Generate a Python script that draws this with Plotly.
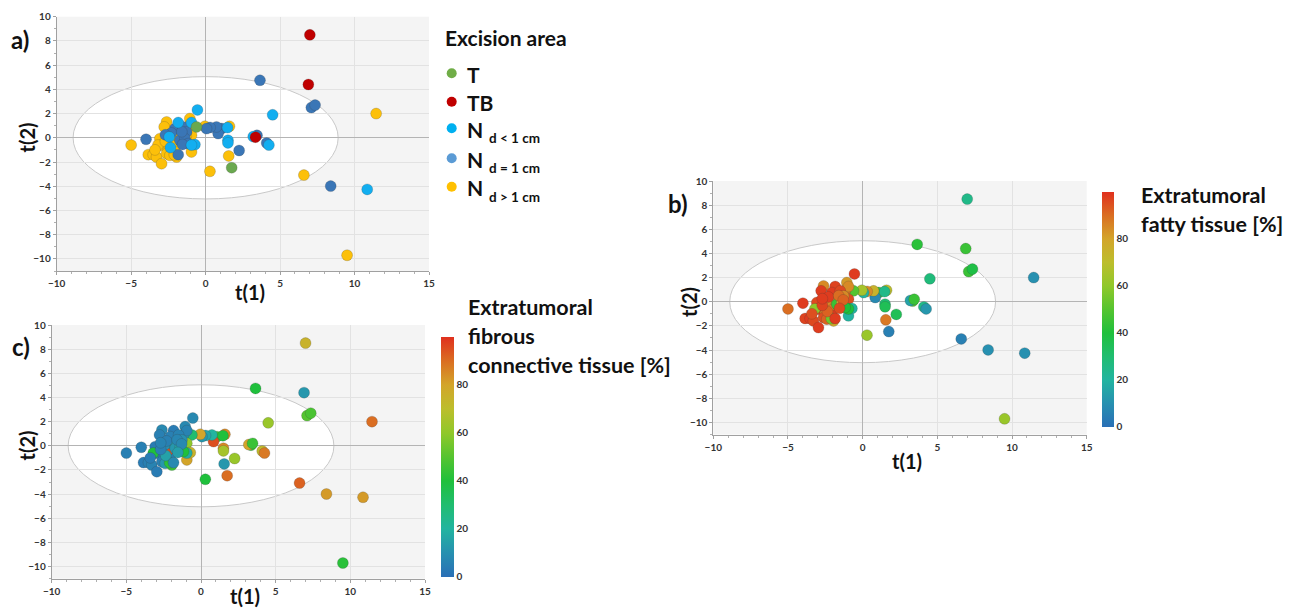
import plotly.graph_objects as go

# Score coordinates of each sample on the first two components
t1 = [7.0, 6.9, 3.65, 7.1, 7.35, 11.45, 4.5, -0.55, 3.35, 3.2, 3.45, 4.1, 4.25, 2.25, 1.55,
      1.75, 0.29, 6.6, 8.4, 10.85, 9.5, -4.0, -5.0, 1.5, 1.5, 1.07, 0.84, 1.6, 1.47, 0.73,
      0.3, 0.06, -0.05, -0.61,
      -2.62, -2.78, -3.07, -2.96, -3.2, -3.85, -3.52, -3.3, -2.96, -2.51, -2.62, -2.40, -1.95,
      -2.06, -2.18, -1.84, -1.06, -1.17, -0.95, -0.95, -2.1,
      -1.84, -0.95, -2.44, -2.36, -0.72, -0.95,
      -2.06, -1.5, -1.28, -1.73, -1.39, -1.84, -1.17, -2.3, -1.6,
      -2.7, -3.4, -1.3, -1.55, -2.7]
t2 = [8.5, 4.4, 4.75, 2.5, 2.7, 2.0, 1.9, 2.3, 0.05, 0.1, 0.2, -0.43, -0.6, -1.05, -1.5,
      -2.47, -2.77, -3.08, -3.99, -4.26, -9.7, -0.12, -0.6, -0.2, -0.42, 0.76, 0.35, 0.95, 0.84, 0.9,
      0.85, 0.76, 0.95, 0.9,
      1.31, 0.90, -0.07, -0.62, -0.6, -1.39, -1.39, -1.59, -2.14, -1.03, -1.31, -1.45, -1.59,
      -0.89, -0.34, 0.07, 1.59, 0.90, 0.21, -1.17, -1.4,
      1.26, 1.26, 0.07, -0.81, -0.56, -0.6,
      0.76, 0.9, 0.48, -0.21, -0.07, -1.39, -0.48, 0.4, 0.5,
      -0.3, -1.0, 0.15, -0.55, 0.25]
area = ["TB", "TB", "N=1", "N=1", "N=1", "N>1", "N<1", "N<1", "TB", "N<1", "N=1", "N=1", "N<1", "N=1", "N>1",
        "T", "N>1", "N>1", "N=1", "N<1", "N>1", "N=1", "N>1", "N<1", "N<1", "N=1", "N=1", "N>1", "N<1", "N=1",
        "N=1", "N=1", "N>1", "T",
        "N>1", "N>1", "N>1", "N>1", "N>1", "N>1", "N>1", "N>1", "N>1", "N>1", "N>1", "N>1", "N>1",
        "N>1", "N>1", "N>1", "N>1", "N>1", "N>1", "N>1", "N>1",
        "N<1", "N<1", "N<1", "N<1", "N<1", "N<1",
        "N=1", "N=1", "N=1", "N=1", "N=1", "N=1", "N=1", "N=1", "N=1",
        "N>1", "N>1", "N>1", "N=1", "N=1"]
fat_pct = [25, 45, 42, 45, 38, 10, 28, 98, 50, 15, 45, 25, 12, 35, 88,
           5, 62, 5, 10, 10, 62, 98, 90, 30, 35, 45, 8, 70, 25, 75,
           85, 20, 65, 50,
           85, 98, 96, 98, 60, 97, 98, 96, 98, 85, 95, 92, 78,
           98, 88, 88, 82, 90, 95, 20, 55,
           97, 85, 85, 92, 20, 40,
           98, 96, 85, 45, 80, 98, 40, 98, 90,
           97, 95, 92, 96, 98]
fibrous_pct = [75, 12, 40, 50, 48, 90, 62, 8, 45, 80, 45, 72, 88, 62, 12,
               90, 40, 92, 82, 82, 42, 5, 5, 85, 65, 45, 95, 85, 40, 20,
               15, 12, 80, 30,
               8, 5, 4, 5, 40, 4, 5, 6, 4, 6, 5, 12, 45,
               5, 95, 14, 8, 10, 60, 80, 42,
               4, 6, 10, 15, 75, 18,
               5, 6, 10, 12, 16, 8, 40, 5, 7,
               5, 4, 8, 14, 6]

# Excision-area groups, drawing order and colours
area_codes = ["N>1", "N=1", "N<1", "T", "TB"]
area_colors = {"T": "#6aa84f", "TB": "#c00000", "N<1": "#12aef0",
               "N=1": "#3a76b6", "N>1": "#fcc00a"}
legend_codes = ["T", "TB", "N<1", "N=1", "N>1"]
legend_main = ["T", "TB", "N", "N", "N"]
legend_sub = ["", "", "d < 1 cm", "d = 1 cm", "d > 1 cm"]
legend_swatch = {"T": "#70ad47", "TB": "#c00000", "N<1": "#00b0f0",
                 "N=1": "#5b9bd5", "N>1": "#ffc000"}

# Hotelling T2 ellipse semi-axes
T2_A, T2_B = 8.9, 5.05

colorbar_ticks = [0, 20, 40, 60, 80]
scale = [[0.0, "#2a6fb6"], [0.1, "#2790b0"], [0.2, "#22b4a0"], [0.3, "#20bd70"],
         [0.4, "#1fc03c"], [0.5, "#55c430"], [0.6, "#90c82a"], [0.7, "#bcbe2c"],
         [0.8, "#d3a52a"], [0.9, "#da6e22"], [1.0, "#e0301e"]]

W, H = 1295, 610
FONT = "Lato"


def px(x):
    return x / W


def py(y):
    return 1 - y / H


# Plot areas in pixel coordinates (left, right, top, bottom)
panels = {
    "a": (56.7, 429.0, 16.7, 271.0),
    "b": (713.3, 1086.7, 181.0, 434.5),
    "c": (51.7, 425.0, 325.0, 578.7),
}
# Placement of the axis titles: "t(1)" vertical centre, "t(2)" offset left of the plot
t1_title_y = {"a": 292, "b": 461, "c": 596}
t2_title_dx = {"a": 30, "b": 25, "c": 25}

fig = go.Figure()

marker_line = dict(width=0.6, color="rgba(60,60,60,0.35)")
tick_font = dict(family=FONT, size=10, color="#333", weight="bold")

# Panel a: coloured by excision area
for code in area_codes:
    xs = [x for x, a in zip(t1, area) if a == code]
    ys = [y for y, a in zip(t2, area) if a == code]
    fig.add_trace(go.Scatter(x=xs, y=ys, mode="markers", xaxis="x", yaxis="y",
                             marker=dict(size=11, color=area_colors[code], line=marker_line),
                             showlegend=False, name=code))

# Panel b: coloured by extratumoral fatty tissue
fig.add_trace(go.Scatter(
    x=t1, y=t2, mode="markers", xaxis="x2", yaxis="y2", showlegend=False,
    marker=dict(size=11, color=fat_pct, colorscale=scale, cmin=0, cmax=100, line=marker_line,
                colorbar=dict(x=px(1102), xanchor="left", thickness=12, xpad=0, ypad=0,
                              y=py((192 + 426.7) / 2), yanchor="middle", len=(426.7 - 192) / H,
                              tickvals=colorbar_ticks, outlinewidth=0, ticks="",
                              tickfont=tick_font))))

# Panel c: coloured by extratumoral fibrous connective tissue
fig.add_trace(go.Scatter(
    x=t1, y=t2, mode="markers", xaxis="x3", yaxis="y3", showlegend=False,
    marker=dict(size=11, color=fibrous_pct, colorscale=scale, cmin=0, cmax=100, line=marker_line,
                colorbar=dict(x=px(441), xanchor="left", thickness=13, xpad=0, ypad=0,
                              y=py((337 + 576.7) / 2), yanchor="middle", len=(576.7 - 337) / H,
                              tickvals=colorbar_ticks, outlinewidth=0, ticks="",
                              tickfont=tick_font))))

axis_common = dict(showgrid=True, gridcolor="#e2e2e2", gridwidth=1, automargin=False,
                   zeroline=True, zerolinecolor="#b4b4b4", zerolinewidth=1,
                   showline=True, linecolor="#a0a0a0", linewidth=1,
                   ticks="outside", ticklen=3, tickcolor="#a0a0a0",
                   tickfont=tick_font,
                   minor=dict(ticks="outside", ticklen=2, tickcolor="#b0b0b0", showgrid=False))

Y_MIN, Y_MAX = -11, 10

shapes = []
annotations = []
for key, suffix in zip(["a", "b", "c"], ["", "2", "3"]):
    l, r, t, b = panels[key]
    fig.update_layout(**{
        "xaxis" + suffix: dict(domain=[px(l), px(r)], range=[-10, 15], dtick=5, tick0=0,
                               anchor="y" + suffix, **axis_common),
        "yaxis" + suffix: dict(domain=[py(b), py(t)], range=[Y_MIN, Y_MAX], dtick=2, tick0=0,
                               anchor="x" + suffix, **axis_common),
    })
    fig.layout["xaxis" + suffix].minor.dtick = 1
    fig.layout["yaxis" + suffix].minor.dtick = 1
    # Confidence ellipse
    shapes.append(dict(type="circle", xref="x" + suffix, yref="y" + suffix,
                       x0=-T2_A, x1=T2_A, y0=-T2_B, y1=T2_B, layer="below",
                       fillcolor="white", line=dict(color="#c8c8c8", width=1)))
    # Axis titles
    cx = (l + r) / 2 + 7
    zero_y = t + Y_MAX * (b - t) / (Y_MAX - Y_MIN)
    annotations.append(dict(text="t(1)", x=px(cx), y=py(t1_title_y[key]), xref="paper", yref="paper",
                            showarrow=False, font=dict(family=FONT, size=20, color="#111", weight="bold"),
                            xanchor="center", yanchor="middle"))
    annotations.append(dict(text="t(2)", x=px(l - t2_title_dx[key]), y=py(zero_y), xref="paper",
                            yref="paper", showarrow=False, textangle=-90,
                            font=dict(family=FONT, size=20, color="#111", weight="bold"),
                            xanchor="center", yanchor="middle"))

# Panel letters
for text, (x, y) in zip(["a)", "b)", "c)"], [(20, 40), (678, 203), (21, 346)]):
    annotations.append(dict(text=text, x=px(x), y=py(y), xref="paper", yref="paper", showarrow=False,
                            font=dict(family=FONT, size=24, color="#111", weight="bold"),
                            xanchor="center", yanchor="middle"))

# Excision-area legend
annotations.append(dict(text="Excision area", x=px(443), y=py(37), xref="paper", yref="paper",
                        showarrow=False, xanchor="left", yanchor="middle",
                        font=dict(family=FONT, size=21, color="#111", weight="bold")))
rows_y = [73.3, 101.7, 128.3, 158.3, 186.7]
for code, main, sub, yy in zip(legend_codes, legend_main, legend_sub, rows_y):
    shapes.append(dict(type="circle", xref="paper", yref="paper",
                       x0=px(446.7), x1=px(456.7), y0=py(yy + 5), y1=py(yy - 5),
                       fillcolor=legend_swatch[code], line=dict(width=0)))
    annotations.append(dict(text=main, x=px(465), y=py(yy + 1), xref="paper", yref="paper",
                            showarrow=False, xanchor="left", yanchor="middle",
                            font=dict(family=FONT, size=21, color="#111", weight="bold")))
    if sub:
        annotations.append(dict(text=sub, x=px(487), y=py(yy + 10), xref="paper", yref="paper",
                                showarrow=False, xanchor="left", yanchor="middle",
                                font=dict(family=FONT, size=13.5, color="#111", weight="bold")))

# Colour-bar titles
title_font = dict(family=FONT, size=21.5, color="#111", weight="bold")
for text, x, y in [("Extratumoral", 1139, 195), ("fatty tissue [%]", 1139, 224),
                   ("Extratumoral", 466, 307), ("fibrous", 466, 336),
                   ("connective tissue [%]", 466, 365)]:
    annotations.append(dict(text=text, x=px(x), y=py(y), xref="paper", yref="paper",
                            showarrow=False, xanchor="left", yanchor="middle", font=title_font))

fig.update_layout(
    width=W, height=H, margin=dict(l=0, r=0, t=0, b=0, autoexpand=False),
    paper_bgcolor="white", plot_bgcolor="#f4f4f4",
    shapes=shapes, annotations=annotations,
    font=dict(family=FONT),
)

fig.write_html("out.html")
